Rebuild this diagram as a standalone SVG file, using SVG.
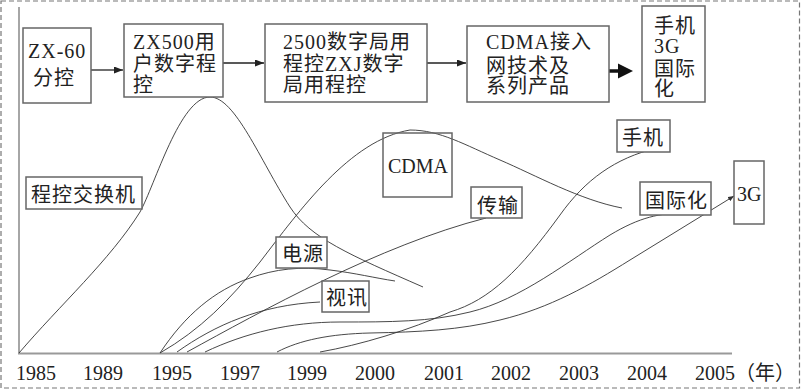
<svg xmlns="http://www.w3.org/2000/svg" width="801" height="390" viewBox="0 0 801 390">
<style>
.box{fill:#fff;stroke:#666;stroke-width:1.5}
.t{font-family:"Liberation Serif","Noto Sans CJK SC",serif;font-size:20px;fill:#222;letter-spacing:1px}
.yr{font-family:"Liberation Serif","Noto Sans CJK SC",serif;font-size:20px;fill:#222}
.cv{fill:none;stroke:#333;stroke-width:0.9}
.ar{fill:none;stroke:#222;stroke-width:1.3}
</style>
<defs>
<marker id="ah" markerUnits="userSpaceOnUse" markerWidth="9" markerHeight="7" refX="9" refY="3.5" orient="auto"><path d="M0,0 L9,3.5 L0,7 z" fill="#222"/></marker>
<marker id="ahs" markerUnits="userSpaceOnUse" markerWidth="6" markerHeight="5" refX="6" refY="2.5" orient="auto"><path d="M0,0 L6,2.5 L0,5 z" fill="#333"/></marker>
</defs>
<rect x="1" y="1" width="798.5" height="387" fill="#fff" stroke="#777" stroke-width="1.2" stroke-dasharray="5 3"/>
<g id="axes">
<line x1="19" y1="7" x2="19" y2="354" stroke="#888" stroke-width="1.5"/>
<line x1="18" y1="353.5" x2="732" y2="353.5" stroke="#999" stroke-width="2"/>
<text class="yr" x="16" y="380">1985</text>
<text class="yr" x="83" y="380">1989</text>
<text class="yr" x="152" y="380">1995</text>
<text class="yr" x="220" y="380">1997</text>
<text class="yr" x="287" y="380">1999</text>
<text class="yr" x="355" y="380">2000</text>
<text class="yr" x="424" y="380">2001</text>
<text class="yr" x="491" y="380">2002</text>
<text class="yr" x="559" y="380">2003</text>
<text class="yr" x="627" y="380">2004</text>
<text class="yr" x="695" y="380">2005（年）</text>
</g>
<g id="connectors">
<line class="ar" x1="91" y1="70" x2="123" y2="70" marker-end="url(#ah)"/>
<line class="ar" x1="223" y1="63" x2="264" y2="63" marker-end="url(#ah)"/>
<line class="ar" x1="427" y1="63" x2="466" y2="63" marker-end="url(#ah)"/>
<line x1="602" y1="71" x2="620" y2="71" stroke="#111" stroke-width="3.5"/>
<polygon points="618,63.5 633,71 618,78.5" fill="#111"/>
<path class="cv" d="M19,353 C60,305 110,260 140,212 C155,185 180,97 210,97 C235,97 260,160 290,207 C310,238 350,255 423,287"/>
<path class="cv" d="M160,353 C200,330 230,300 260,262 C300,210 350,140 410,130 C440,130 465,145 500,160 C535,175 580,200 622,208"/>
<path class="cv" d="M160,353 C185,315 215,290 250,278 C275,269 300,266 330,270 C355,273 375,278 395,281"/>
<path class="cv" d="M177,352 C215,325 260,305 320,302"/>
<path class="cv" d="M187,352 C260,312 380,245 486,218"/>
<path class="cv" d="M205,352 C245,333 290,322 340,322 C390,322 430,322 470,312 C520,300 570,260 610,235 C640,217 660,213 685,213"/>
<path class="cv" d="M277,352 C300,340 330,334 370,333 C420,332 460,330 500,320 C550,308 590,285 630,260 L734,196" marker-end="url(#ahs)"/>
<path class="cv" d="M320,352 C360,345 410,330 450,312 C490,300 520,270 560,215 C585,180 615,158 657,148"/>
</g>
<g id="n-zx60"><rect class="box" x="23" y="28" width="68" height="75"/><text class="t" x="28" y="58">ZX-60</text><text class="t" x="33" y="85">分控</text></g>
<g id="n-zx500"><rect class="box" x="124" y="24" width="99" height="73"/><text class="t" x="133" y="49">ZX500用</text><text class="t" x="133" y="71">户数字程</text><text class="t" x="133" y="92">控</text></g>
<g id="n-2500"><rect class="box" x="265" y="24" width="162" height="78"/><text class="t" x="283" y="49">2500数字局用</text><text class="t" x="283" y="71">程控ZXJ数字</text><text class="t" x="283" y="92">局用程控</text></g>
<g id="n-cdma-access"><rect class="box" x="467" y="26" width="142" height="76"/><text class="t" x="486" y="49">CDMA接入</text><text class="t" x="486" y="73">网技术及</text><text class="t" x="486" y="93">系列产品</text></g>
<g id="n-future"><rect class="box" x="642" y="6" width="63" height="96"/><text class="t" x="654" y="33">手机</text><text class="t" x="654" y="53">3G</text><text class="t" x="654" y="76">国际</text><text class="t" x="654" y="96">化</text></g>
<g id="l-switch"><rect class="box" x="26" y="177" width="116" height="32"/><text class="t" x="31" y="202">程控交换机</text></g>
<g id="l-power"><rect class="box" x="276" y="237" width="51" height="31"/><text class="t" x="282" y="261">电源</text></g>
<g id="l-video"><rect class="box" x="322" y="281" width="47" height="31"/><text class="t" x="326" y="305">视讯</text></g>
<g id="l-cdma"><rect class="box" x="383" y="133" width="69" height="64" fill="none" style="fill:none"/><text class="t" x="388" y="173" style="letter-spacing:0">CDMA</text></g>
<g id="l-trans"><rect class="box" x="471" y="187" width="51" height="31"/><text class="t" x="477" y="213">传输</text></g>
<g id="l-mobile"><rect class="box" x="617" y="120" width="53" height="32"/><text class="t" x="622" y="145">手机</text></g>
<g id="l-intl"><rect class="box" x="640" y="182" width="71" height="33"/><text class="t" x="645" y="208">国际化</text></g>
<g id="l-3g"><rect class="box" x="734" y="161" width="30" height="63"/><text class="t" x="737" y="201" style="letter-spacing:0">3G</text></g>
</svg>
